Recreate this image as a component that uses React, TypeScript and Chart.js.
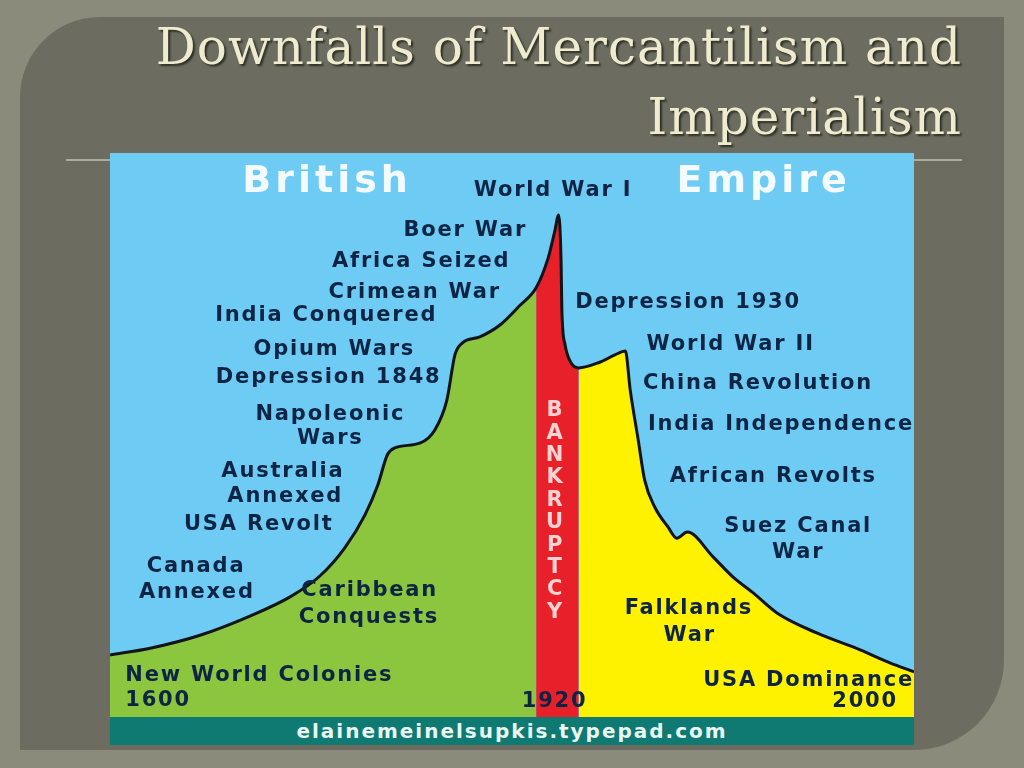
import { useEffect, useRef } from 'react';
import { Chart, registerables } from 'chart.js';

Chart.register(...registerables);

// empire profile: position along the timeline (0-100) and relative size (0-100)
const curveX = [
  0, 5.0, 11.2, 17.4, 22.4, 26.1, 29.2, 31.7, 33.3, 34.5, 35.4, 38.6, 40.4, 41.9, 42.9, 43.8, 46.0, 48.5,
  51.0, 53.0, 54.5, 55.3, 55.8, 56.1, 56.2, 56.6, 57.3, 58.3, 60.9, 62.8, 64.1, 64.7, 65.7, 66.5, 67.8,
  69.4, 70.5, 71.8, 75.0, 77.5, 80.0, 83.0, 87.9, 93.3, 97.0, 100,
];
const curveY = [
  11.0, 12.2, 14.5, 17.9, 21.3, 25.0, 30.0, 35.8, 41.1, 46.5, 47.7, 48.6, 50.9, 56.2, 64.2, 66.3, 67.4, 69.5,
  73.0, 76.1, 81.4, 86.0, 89.0, 81.0, 72.2, 66.0, 62.9, 61.9, 62.9, 64.2, 64.9, 58.0, 49.1, 42.0, 37.1,
  33.7, 31.7, 32.8, 28.4, 24.8, 22.0, 18.4, 14.9, 11.9, 9.6, 8.0,
];
const bankruptcyStart = 53.0;
const bankruptcyEnd = 58.3;

type Label = { text: string; x: number; y: number; align?: CanvasTextAlign };

const eventLabels: Label[] = [
  { text: 'World War I', x: 55.1, y: 93.4 },
  { text: 'Boer War', x: 44.2, y: 86.3 },
  { text: 'Africa Seized', x: 38.7, y: 80.7 },
  { text: 'Crimean War', x: 37.9, y: 75.2 },
  { text: 'India Conquered', x: 26.9, y: 71.1 },
  { text: 'Opium Wars', x: 27.9, y: 65.1 },
  { text: 'Depression 1848', x: 27.2, y: 60.1 },
  { text: 'Napoleonic', x: 27.4, y: 53.7 },
  { text: 'Wars', x: 27.4, y: 49.3 },
  { text: 'Australia', x: 21.5, y: 43.6 },
  { text: 'Annexed', x: 21.8, y: 39.0 },
  { text: 'USA Revolt', x: 18.5, y: 34.2 },
  { text: 'Canada', x: 10.7, y: 26.6 },
  { text: 'Annexed', x: 10.8, y: 22.0 },
  { text: 'Caribbean', x: 32.3, y: 22.5 },
  { text: 'Conquests', x: 32.2, y: 17.7 },
  { text: 'New World Colonies', x: 1.9, y: 7.3, align: 'left' },
  { text: '1600', x: 1.9, y: 3.0, align: 'left' },
  { text: 'Depression 1930', x: 71.9, y: 73.4 },
  { text: 'World War II', x: 77.2, y: 66.0 },
  { text: 'China Revolution', x: 80.6, y: 59.2 },
  { text: 'India Independence', x: 100, y: 51.8, align: 'right' },
  { text: 'African Revolts', x: 82.5, y: 42.6 },
  { text: 'Suez Canal', x: 85.6, y: 33.7 },
  { text: 'War', x: 85.6, y: 29.1 },
  { text: 'Falklands', x: 72.0, y: 19.3 },
  { text: 'War', x: 72.1, y: 14.5 },
  { text: 'USA Dominance', x: 100, y: 6.4, align: 'right' },
  { text: '2000', x: 98.0, y: 2.8, align: 'right' },
  { text: '1920', x: 55.3, y: 2.7 },
];

const headerLabels: Label[] = [
  { text: 'British', x: 27.0, y: 94.9 },
  { text: 'Empire', x: 81.3, y: 94.9 },
];

const bankruptcyLetters = 'BANKRUPTCY'.split('');
const bankruptcyTop = 54.3;
const bankruptcyStep = 3.97;

const points = curveX.map((x, i) => ({ x, y: curveY[i] }));

const labelPlugin = {
  id: 'eventLabels',
  afterDatasetsDraw(chart: Chart) {
    const { ctx } = chart;
    const sx = chart.scales.x;
    const sy = chart.scales.y;
    ctx.save();
    ctx.textBaseline = 'middle';
    (ctx as any).letterSpacing = '1.8px';
    ctx.font = 'bold 21px "DejaVu Sans"';
    ctx.fillStyle = '#0d2444';
    eventLabels.forEach((l) => {
      ctx.textAlign = l.align ?? 'center';
      ctx.fillText(l.text, sx.getPixelForValue(l.x), sy.getPixelForValue(l.y));
    });

    (ctx as any).letterSpacing = '4px';
    ctx.font = 'bold 38px "DejaVu Sans"';
    ctx.fillStyle = '#f4fbff';
    ctx.textAlign = 'center';
    headerLabels.forEach((l) => {
      ctx.fillText(l.text, sx.getPixelForValue(l.x), sy.getPixelForValue(l.y));
    });

    (ctx as any).letterSpacing = '0px';
    ctx.font = 'bold 21px "DejaVu Sans"';
    ctx.fillStyle = '#fbd3d3';
    bankruptcyLetters.forEach((ch, i) => {
      ctx.fillText(ch, sx.getPixelForValue(55.3), sy.getPixelForValue(bankruptcyTop - i * bankruptcyStep));
    });
    ctx.restore();
  },
};

function EmpireChart() {
  const canvasRef = useRef<HTMLCanvasElement | null>(null);

  useEffect(() => {
    const area = (data: { x: number; y: number }[], color: string) => ({
      data,
      fill: 'origin',
      backgroundColor: color,
      borderWidth: 0,
      pointRadius: 0,
      cubicInterpolationMode: 'monotone' as const,
    });
    const chart = new Chart(canvasRef.current!, {
      type: 'line',
      data: {
        datasets: [
          {
            data: points,
            fill: false,
            borderColor: '#111418',
            borderWidth: 3,
            borderJoinStyle: 'round',
            pointRadius: 0,
            cubicInterpolationMode: 'monotone',
          },
          area(points.filter((p) => p.x <= bankruptcyStart), '#8cc63f'),
          area(points.filter((p) => p.x >= bankruptcyStart && p.x <= bankruptcyEnd), '#e8202a'),
          area(points.filter((p) => p.x >= bankruptcyEnd), '#fff200'),
        ],
      },
      options: {
        animation: false,
        responsive: true,
        maintainAspectRatio: false,
        layout: { padding: 0 },
        plugins: { legend: { display: false }, tooltip: { enabled: false } },
        scales: {
          x: { type: 'linear', min: 0, max: 100, display: false },
          y: { min: 0, max: 100, display: false },
        },
      },
      plugins: [labelPlugin],
    });
    return () => chart.destroy();
  }, []);

  return (
    <div style={{ position: 'absolute', left: 110, top: 153, width: 804, height: 564, background: '#6ecbf3' }}>
      <canvas ref={canvasRef}></canvas>
    </div>
  );
}

export default function App() {
  const titleStyle: React.CSSProperties = {
    position: 'absolute',
    right: 62,
    fontFamily: '"DejaVu Serif"',
    fontSize: 50,
    letterSpacing: '1px',
    lineHeight: '56px',
    color: '#efebcf',
    textShadow: '2px 2px 2px #2e2f27',
    whiteSpace: 'nowrap',
  };
  return (
    <div style={{ position: 'fixed', left: 0, top: 0, width: 1024, height: 768, background: '#8a8b7b', overflow: 'hidden' }}>
      <div
        style={{
          position: 'absolute',
          left: 20,
          top: 17,
          width: 984,
          height: 733,
          background: '#6c6d60',
          borderRadius: '80px 0 90px 0',
        }}
      />
      <div style={{ ...titleStyle, top: 19 }}>Downfalls of Mercantilism and</div>
      <div style={{ ...titleStyle, top: 89 }}>Imperialism</div>
      <div style={{ position: 'absolute', left: 66, top: 159, width: 896, height: 2, background: '#a9ab9b' }} />
      <EmpireChart />
      <div
        style={{
          position: 'absolute',
          left: 110,
          top: 717,
          width: 804,
          height: 28,
          background: '#0f7a72',
          color: '#e9f6f2',
          fontFamily: '"DejaVu Sans"',
          fontWeight: 'bold',
          fontSize: 20,
          letterSpacing: '2px',
          lineHeight: '28px',
          textAlign: 'center',
        }}
      >
        elainemeinelsupkis.typepad.com
      </div>
    </div>
  );
}
